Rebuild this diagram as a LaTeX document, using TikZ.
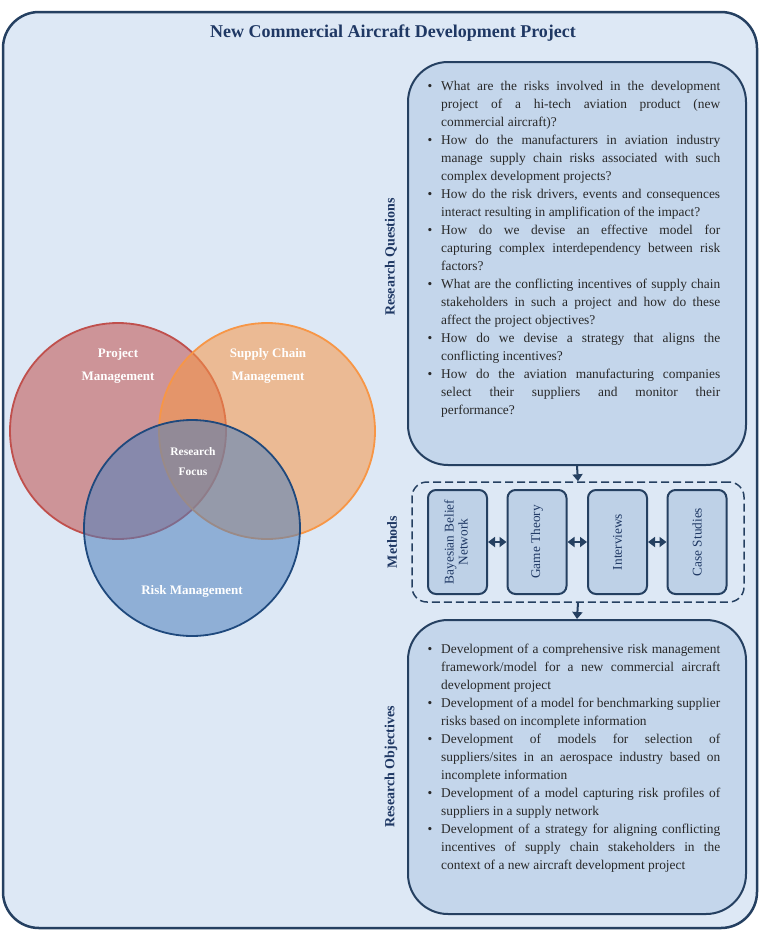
\documentclass[tikz,border=0pt]{standalone}
\usepackage{fontspec}
\setmainfont{Liberation Serif}
\usepackage{enumitem}
\usepackage{tikz}
\usetikzlibrary{arrows.meta,positioning,calc}
\definecolor{ACNavy}{RGB}{37,64,97}
\definecolor{ACTitle}{RGB}{31,56,100}
\definecolor{ACBack}{RGB}{221,232,245}
\definecolor{ACBox}{RGB}{196,214,235}
\definecolor{ACMethod}{RGB}{190,209,231}
\definecolor{PMRed}{RGB}{192,80,77}
\definecolor{SCOrange}{RGB}{247,150,70}
\definecolor{RMBlue}{RGB}{79,129,189}
\definecolor{RMLine}{RGB}{31,73,125}
\definecolor{ACText}{RGB}{40,40,40}
\setlist[itemize]{label={\textbullet},leftmargin=13pt,labelsep=9pt,itemsep=0pt,topsep=0pt,parsep=0pt,partopsep=0pt}

\begin{document}
\begin{tikzpicture}[x=1pt,y=-1pt,>={Triangle[width=10pt,length=7pt]},every node/.style={font=\fontsize{13.4}{18}\selectfont}]
\tikzset{bigbox/.style={draw=ACNavy,line width=2pt,fill=ACBox,rounded corners=40pt},methbox/.style={draw=ACNavy,line width=2pt,fill=ACMethod,rounded corners=8pt,minimum width=59pt,minimum height=104pt,inner sep=0pt,align=center,text=ACTitle,font=\fontsize{13.3}{15}\selectfont},sidelabel/.style={rotate=90,font=\fontsize{14}{16}\selectfont\bfseries,text=ACTitle},venn/.style={line width=1.8pt,fill opacity=0.55},venntext/.style={text=white,font=\fontsize{13}{23}\selectfont\bfseries,align=center},link/.style={draw=ACNavy,line width=2pt}}
\useasboundingbox (0,0) rectangle (759,930);
\node[draw=ACNavy,line width=2.5pt,fill=ACBack,rounded corners=36pt,minimum width=754pt,minimum height=916pt,inner sep=0pt] (frame) at (380,470) {};
\node[font=\fontsize{18}{20}\selectfont\bfseries,text=ACTitle] (title) at (393,33) {New Commercial Aircraft Development Project};
\draw[venn,draw=PMRed,fill=PMRed] (118,431) circle (108pt);
\draw[venn,draw=SCOrange,fill=SCOrange] (267,431) circle (108pt);
\draw[venn,draw=RMLine,fill=RMBlue] (192,528) circle (108pt);
\node[venntext] (pm) at (118,366) {Project\\Management};
\node[venntext] (scm) at (268,366) {Supply Chain\\Management};
\node[venntext,font=\fontsize{11.5}{20}\selectfont\bfseries] (focus) at (193,462) {Research\\Focus};
\node[venntext] (rm) at (192,591) {Risk Management};
\node[bigbox,minimum width=338pt,minimum height=403pt] (qbox) at (577,263.5) {};
\node[draw=ACNavy,line width=1.5pt,dashed,dash pattern=on 8pt off 4pt,rounded corners=15pt,minimum width=332pt,minimum height=120pt] (mbox) at (578,542) {};
\node[bigbox,minimum width=338pt,minimum height=294pt] (obox) at (577,767) {};
\node[sidelabel] (qlab) at (391,257) {Research Questions};
\node[sidelabel] (mlab) at (392,542) {Methods};
\node[sidelabel] (olab) at (391,767) {Research Objectives};
\node[anchor=north west,inner sep=0pt,text=ACText] (qtext) at (428,81) {\begin{minipage}{292pt}\fontsize{13.4}{18}\selectfont
\begin{itemize}
\item What are the risks involved in the development\linebreak project of a hi-tech aviation product (new\linebreak commercial aircraft)?
\item How do the manufacturers in aviation industry\linebreak manage supply chain risks associated with such\linebreak complex development projects?
\item How do the risk drivers, events and consequences\linebreak interact resulting in amplification of the impact?
\item How do we devise an effective model for\linebreak capturing complex interdependency between risk\linebreak factors?
\item What are the conflicting incentives of supply chain\linebreak stakeholders in such a project and how do these\linebreak affect the project objectives?
\item How do we devise a strategy that aligns the\linebreak conflicting incentives?
\item How do the aviation manufacturing companies\linebreak select their suppliers and monitor their\linebreak performance?
\end{itemize}
\end{minipage}};
\node[anchor=north west,inner sep=0pt,text=ACText] (otext) at (428,644) {\begin{minipage}{292pt}\fontsize{13.4}{18}\selectfont
\begin{itemize}
\item Development of a comprehensive risk management\linebreak framework/model for a new commercial aircraft\linebreak development project
\item Development of a model for benchmarking supplier\linebreak risks based on incomplete information
\item Development of models for selection of\linebreak suppliers/sites in an aerospace industry based on\linebreak incomplete information
\item Development of a model capturing risk profiles of\linebreak suppliers in a supply network
\item Development of a strategy for aligning conflicting\linebreak incentives of supply chain stakeholders in the\linebreak context of a new aircraft development project
\end{itemize}
\end{minipage}};
\node[methbox] (bbn) at (457.5,542) {\rotatebox{90}{\begin{tabular}{@{}c@{}}Bayesian Belief\\[-1pt]Network\end{tabular}}};
\node[methbox] (gt) at (537,542) {\rotatebox{90}{Game Theory}};
\node[methbox] (iv) at (617.5,542) {\rotatebox{90}{Interviews}};
\node[methbox] (cs) at (697,542) {\rotatebox{90}{Case Studies}};
\draw[link,<->] (bbn) -- (gt);
\draw[link,<->] (gt) -- (iv);
\draw[link,<->] (iv) -- (cs);
\draw[link,->] (qbox.south) -- (mbox.north);
\draw[link,->] (mbox.south) -- (obox.north);
\end{tikzpicture}
\end{document}
